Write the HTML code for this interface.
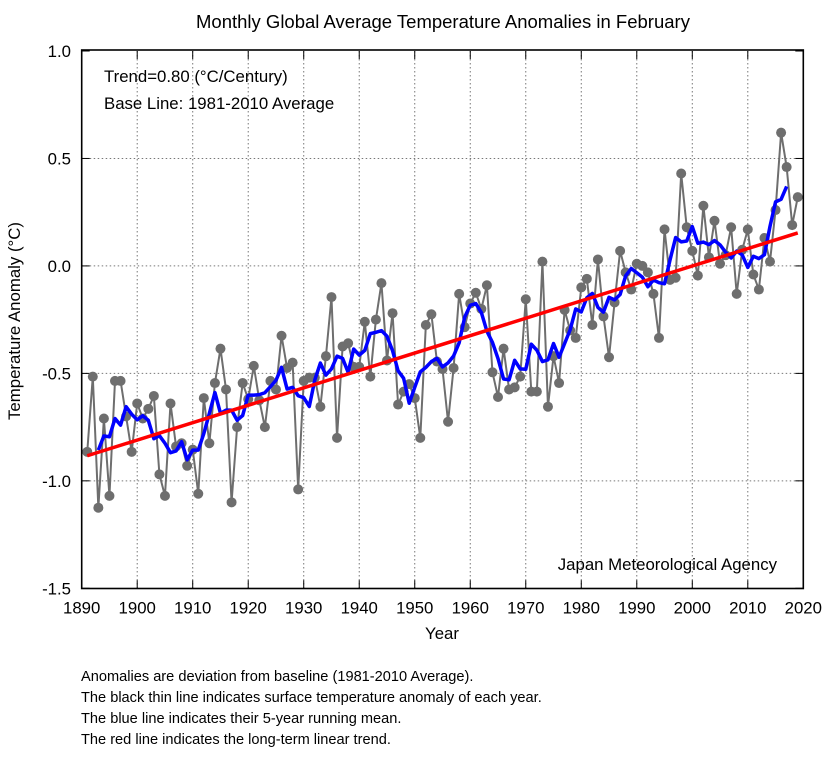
<!DOCTYPE html>
<html><head><meta charset="utf-8">
<style>
html,body{margin:0;padding:0;background:#fff;}
body{width:833px;height:779px;overflow:hidden;font-family:"Liberation Sans",Arial,sans-serif;}
svg text{font-family:"Liberation Sans",Arial,sans-serif;fill:#000;}
</style></head>
<body>
<svg id="chart" width="833" height="779" viewBox="0 0 833 779" xmlns="http://www.w3.org/2000/svg">
<text x="443" y="28" font-size="18.5" text-anchor="middle">Monthly Global Average Temperature Anomalies in February</text>
<g id="grid"></g>
<g id="axes"></g>
<g id="series"></g>
<rect x="81.7" y="50" width="721.6" height="538.5" fill="none" stroke="#000" stroke-width="1.6"/>
<text x="104" y="82" font-size="16.8">Trend=0.80 (°C/Century)</text>
<text x="104" y="109" font-size="16.8">Base Line: 1981-2010 Average</text>
<text x="777" y="570" font-size="16.8" text-anchor="end">Japan Meteorological Agency</text>
<text x="442" y="639" font-size="16.8" text-anchor="middle">Year</text>
<text transform="translate(20,321) rotate(-90)" font-size="16.8" text-anchor="middle">Temperature Anomaly (°C)</text>
<g font-size="14.6">
<text x="81" y="681">Anomalies are deviation from baseline (1981-2010 Average).</text>
<text x="81" y="702">The black thin line indicates surface temperature anomaly of each year.</text>
<text x="81" y="723">The blue line indicates their 5-year running mean.</text>
<text x="81" y="744">The red line indicates the long-term linear trend.</text>
</g>
</svg>
<script>
const startYear = 1891;
const anomalies = [
-0.865,-0.515,-1.125,-0.71,-1.07,-0.535,-0.535,-0.70,-0.865,-0.64,
-0.71,-0.665,-0.605,-0.97,-1.07,-0.64,-0.84,-0.825,-0.93,-0.855,
-1.06,-0.615,-0.825,-0.545,-0.385,-0.575,-1.10,-0.75,-0.545,-0.62,
-0.465,-0.625,-0.75,-0.535,-0.575,-0.325,-0.475,-0.45,-1.04,-0.535,
-0.52,-0.52,-0.655,-0.42,-0.145,-0.80,-0.375,-0.36,-0.47,-0.47,
-0.26,-0.515,-0.25,-0.08,-0.44,-0.22,-0.645,-0.585,-0.55,-0.615,
-0.80,-0.275,-0.225,-0.445,-0.48,-0.725,-0.475,-0.13,-0.285,-0.175,
-0.125,-0.20,-0.09,-0.495,-0.61,-0.385,-0.575,-0.565,-0.515,-0.155,
-0.585,-0.585,0.02,-0.655,-0.42,-0.545,-0.205,-0.30,-0.335,-0.10,
-0.06,-0.275,0.03,-0.235,-0.425,-0.17,0.07,-0.03,-0.11,0.01,
0.0,-0.03,-0.13,-0.335,0.17,-0.065,-0.055,0.43,0.18,0.07,
-0.045,0.28,0.04,0.21,0.01,0.05,0.18,-0.13,0.075,0.17,
-0.04,-0.11,0.13,0.02,0.26,0.62,0.46,0.19,0.32
];
const xTicks = [1890,1900,1910,1920,1930,1940,1950,1960,1970,1980,1990,2000,2010,2020];
const yTicks = [1.0,0.5,0.0,-0.5,-1.0,-1.5];
const yTickLabels = ["1.0","0.5","0.0","-0.5","-1.0","-1.5"];

const NS='http://www.w3.org/2000/svg';
const X0=81.7,X1=803.3,Y0=588.3,Y1=51;
function xs(yr){return X0+(yr-1890)/130*(X1-X0);}
function ys(v){return Y0-(v+1.5)/2.5*(Y0-Y1);}
function mk(tag,attrs,parent){const e=document.createElementNS(NS,tag);for(const k in attrs)e.setAttribute(k,attrs[k]);parent.appendChild(e);return e;}
const grid=document.getElementById('grid'),axes=document.getElementById('axes'),series=document.getElementById('series');

xTicks.forEach((t,i)=>{
  const x=xs(t);
  if(i>0&&i<xTicks.length-1){
    const g=mk('line',{x1:x,x2:x,y1:Y1,y2:Y0,stroke:'#777','stroke-width':1,'stroke-dasharray':'1.5,2.5'},grid);
    
    
  }
  const tk=mk('line',{x1:x,x2:x,y1:Y0,y2:Y0-8,stroke:'#000','stroke-width':1},axes);
  
  
  const tk2=mk('line',{x1:x,x2:x,y1:Y1,y2:Y1+8,stroke:'#000','stroke-width':1},axes);
  
  
  const lb=mk('text',{x:x,y:Y0+25,'font-size':16.8,'text-anchor':'middle'},axes);
  lb.textContent=String(t);
  
  
});
yTicks.forEach((t,i)=>{
  const y=ys(t);
  if(i>0&&i<yTicks.length-1){
    const g=mk('line',{x1:X0,x2:X1,y1:y,y2:y,stroke:'#777','stroke-width':1,'stroke-dasharray':'1.5,2.5'},grid);
    
    
  }
  const tk=mk('line',{x1:X0,x2:X0+8,y1:y,y2:y,stroke:'#000','stroke-width':1},axes);
  
  
  const tk2=mk('line',{x1:X1,x2:X1-8,y1:y,y2:y,stroke:'#000','stroke-width':1},axes);
  
  
  const lb=mk('text',{x:71,y:y+6,'font-size':16.8,'text-anchor':'end'},axes);
  lb.textContent=yTickLabels[i];
  
  
});

const pts=anomalies.map((v,i)=>xs(startYear+i).toFixed(2)+','+ys(v).toFixed(2)).join(' ');
const ln=mk('polyline',{points:pts,fill:'none',stroke:'#6e6e6e','stroke-width':2},series);


anomalies.forEach((v,i)=>{
  const c=mk('circle',{cx:xs(startYear+i),cy:ys(v),r:5,fill:'#6e6e6e'},series);
  
  
});
const rm=[];
for(let i=2;i<anomalies.length-2;i++){
  let s=0;for(let k=-2;k<=2;k++)s+=anomalies[i+k];
  rm.push(xs(startYear+i).toFixed(2)+','+ys(s/5).toFixed(2));
}
const rml=mk('polyline',{points:rm.join(' '),fill:'none',stroke:'#0000ff','stroke-width':3.5,'stroke-linejoin':'round'},series);


let n=anomalies.length,sx=0,sy=0,sxx=0,sxy=0;
anomalies.forEach((v,i)=>{const x=startYear+i;sx+=x;sy+=v;sxx+=x*x;sxy+=x*v;});
const b=(n*sxy-sx*sy)/(n*sxx-sx*sx),a=(sy-b*sx)/n;
const ya=startYear,yb=startYear+n-1;
const tl=mk('line',{x1:xs(ya),y1:ys(a+b*ya),x2:xs(yb),y2:ys(a+b*yb),stroke:'#ff0000','stroke-width':3.5},series);


</script>
</body></html>
